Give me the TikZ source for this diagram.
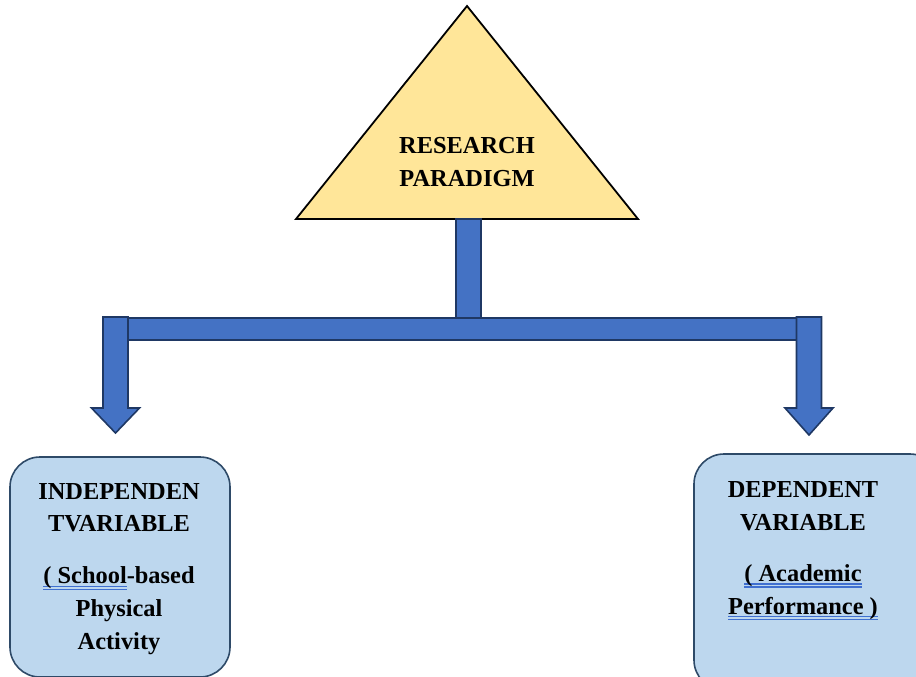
\documentclass[tikz,border=0pt]{standalone}
\usepackage{fontspec}
\setmainfont{Liberation Serif}

\definecolor{trifill}{HTML}{FFE699}
\definecolor{arrowfill}{HTML}{4472C4}
\definecolor{arrowline}{HTML}{1F3864}
\definecolor{boxfill}{HTML}{BDD7EE}
\definecolor{boxline}{HTML}{2E4A68}
\definecolor{spellblue}{HTML}{3F6FD0}

% double blue underline, as the spell checker marks it
\newcommand\spellmark[1]{\setbox0\hbox{#1}%
  \rlap{\textcolor{spellblue}{\rule[-1.6pt]{\wd0}{0.65pt}}}%
  \rlap{\textcolor{spellblue}{\rule[-3.1pt]{\wd0}{0.65pt}}}\box0}

\tikzset{
  paradigmtri/.style={draw=black, line width=0.9pt, fill=trifill, line join=miter},
  blockarrow/.style={draw=arrowline, line width=0.8pt, fill=arrowfill, line join=miter},
  varbox/.style={draw=boxline, line width=0.8pt, fill=boxfill, rounded corners=15pt},
  heading/.style={align=center, font=\fontsize{12.2}{16.4}\selectfont\bfseries}
}

\begin{document}
\begin{tikzpicture}[x=0.5pt, y=-0.5pt]

\useasboundingbox (0,0) rectangle (916,676);
\clip (0,0) rectangle (916,676);

% Triangle
\draw[paradigmtri] (296,219) -- (467,6) -- (638,219) -- cycle;
\node[heading] (paradigm) at (467,162) {RESEARCH\\PARADIGM};

% Horizontal bar and stem
\draw[blockarrow] (128,318) rectangle (797,340);
\draw[blockarrow] (456,219) rectangle (481,318);

% Down arrows
\foreach \cx/\tip in {115.5/433, 809/435}
{
    \draw[blockarrow] ({\cx-12.5},317) -- ({\cx+12.5},317) -- ({\cx+12.5},408)
        -- ({\cx+24},408) -- (\cx,\tip) -- ({\cx-24},408) -- ({\cx-12.5},408) -- cycle;
}

% Variable boxes
\node[varbox, minimum width=110pt, minimum height=110pt] (indep) at (120,567) {};
\node[varbox, minimum width=123pt, minimum height=118pt] (dep) at (817,572) {};

% Box texts
\node[heading] (indeptext) at (119,569)
    {INDEPENDEN\\TVARIABLE\\[9.6pt]\spellmark{( School}-based\\Physical\\Activity};
\node[heading] (deptext) at (803,551)
    {DEPENDENT\\VARIABLE\\[9.1pt]\spellmark{( Academic}\\\spellmark{Performance )}};

\end{tikzpicture}
\end{document}
